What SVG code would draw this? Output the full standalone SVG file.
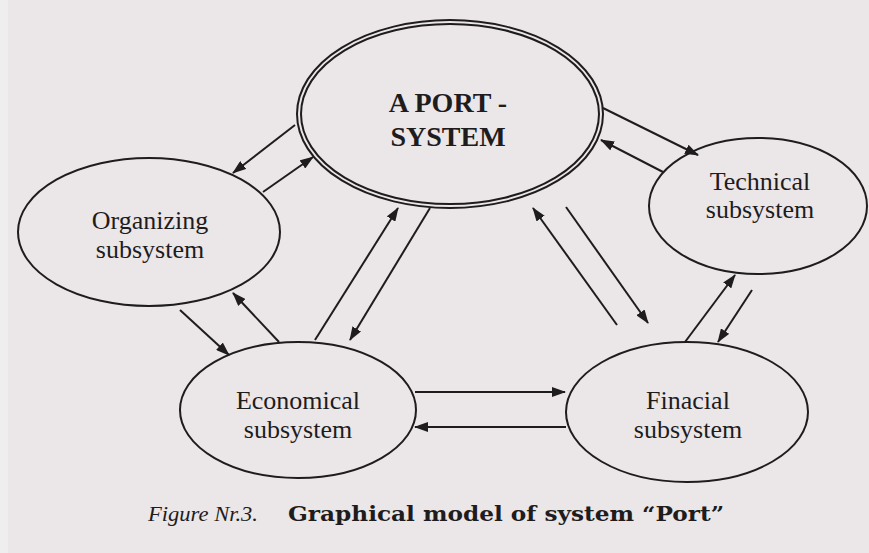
<svg xmlns="http://www.w3.org/2000/svg" width="869" height="553" viewBox="0 0 869 553">
  <style>
    .node { fill: none; stroke: #1e1c1d; stroke-width: 2; }
    .label { font-family: "Liberation Serif", "Times New Roman", serif; font-size: 26px; fill: #1e1c1d; text-anchor: middle; }
    .title { font-family: "Liberation Serif", "Times New Roman", serif; font-size: 28px; font-weight: bold; fill: #1e1c1d; text-anchor: middle; }
    .link { stroke: #1e1c1d; stroke-width: 2; fill: none; marker-end: url(#head); }
  </style>
  <defs>
    <marker id="head" markerUnits="userSpaceOnUse" markerWidth="14" markerHeight="10" refX="13" refY="5" orient="auto">
      <path d="M0,0 L14,5 L0,10 z" fill="#1e1c1d"/>
    </marker>
  </defs>

  <!-- paper -->
  <rect x="0" y="0" width="869" height="553" fill="#ebe6e8"/>
  <rect x="0" y="0" width="8" height="553" fill="#efeeee"/>

  <g id="port-system">
    <ellipse class="node" cx="450" cy="114" rx="153" ry="94"/>
    <ellipse class="node" cx="450" cy="114" rx="149" ry="90"/>
    <text class="title" x="448" y="112">A PORT -</text>
    <text class="title" x="448" y="146">SYSTEM</text>
  </g>

  <g id="organizing">
    <ellipse class="node" cx="149" cy="232" rx="131" ry="74"/>
    <text class="label" x="150" y="229">Organizing</text>
    <text class="label" x="150" y="258">subsystem</text>
  </g>

  <g id="technical">
    <ellipse class="node" cx="758" cy="206" rx="109" ry="68"/>
    <text class="label" x="760" y="190">Technical</text>
    <text class="label" x="760" y="218">subsystem</text>
  </g>

  <g id="economical">
    <ellipse class="node" cx="298" cy="410" rx="118" ry="68"/>
    <text class="label" x="298" y="409">Economical</text>
    <text class="label" x="298" y="438">subsystem</text>
  </g>

  <g id="financial">
    <ellipse class="node" cx="687" cy="412" rx="121" ry="70"/>
    <text class="label" x="688" y="409">Finacial</text>
    <text class="label" x="688" y="438">subsystem</text>
  </g>

  <g id="connectors">
    <line class="link" x1="295" y1="125" x2="233" y2="173"/>
    <line class="link" x1="263" y1="192" x2="313" y2="157"/>
    <line class="link" x1="180" y1="310" x2="229" y2="355"/>
    <line class="link" x1="279" y1="342" x2="233" y2="293"/>
    <line class="link" x1="315" y1="340" x2="398" y2="208"/>
    <line class="link" x1="430" y1="208" x2="350" y2="340"/>
    <line class="link" x1="566" y1="207" x2="648" y2="323"/>
    <line class="link" x1="617" y1="325" x2="533" y2="208"/>
    <line class="link" x1="415" y1="392" x2="565" y2="392"/>
    <line class="link" x1="566" y1="427" x2="415" y2="427"/>
    <line class="link" x1="603" y1="108" x2="698" y2="155"/>
    <line class="link" x1="663" y1="172" x2="601" y2="140"/>
    <line class="link" x1="685" y1="342" x2="735" y2="275"/>
    <line class="link" x1="752" y1="290" x2="718" y2="342"/>
  </g>

  <g id="caption">
    <text x="148" y="521" font-family="Liberation Serif, serif" font-style="italic" font-size="21" fill="#1e1c1d" textLength="110" lengthAdjust="spacingAndGlyphs">Figure Nr.3.</text>
    <text x="288" y="521" font-family="DejaVu Serif, serif" font-weight="bold" font-size="20" fill="#1e1c1d" textLength="436" lengthAdjust="spacingAndGlyphs">Graphical model of system “Port”</text>
  </g>
</svg>
